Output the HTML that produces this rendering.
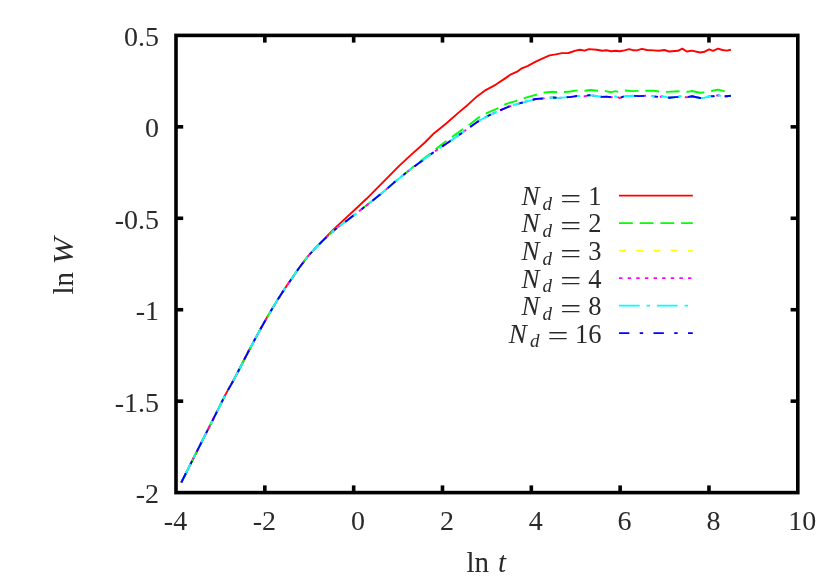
<!DOCTYPE html>
<html>
<head>
<meta charset="utf-8">
<title>ln W vs ln t</title>
<style>
html,body{margin:0;padding:0;background:#ffffff;}
body{width:830px;height:583px;overflow:hidden;font-family:"Liberation Serif",serif;}
svg{display:block;opacity:0.999;will-change:transform;}
text{font-family:"Liberation Serif",serif;fill:#2a2a2a;}
.it{font-style:italic;}
</style>
</head>
<body>
<svg width="830" height="583" viewBox="0 0 830 583">
<rect x="0" y="0" width="830" height="583" fill="#ffffff"/>

<g fill="none" stroke-linejoin="round" stroke-linecap="butt">
<path d="M181.3,482.5 L193.7,457.8 L209.1,427.3 L225.6,394.4 L233.8,379.8 L238.5,370.8 L248.8,350.7 L260.1,329.7 L267.3,316.9 L277.6,299.8 L286.9,285.4 L290.8,280.0 L298.5,268.8 L307.8,256.4 L318.6,244.6 L325.7,237.5 L334.1,229.0 L344.9,218.9 L357.2,207.5 L366.5,198.8 L375.4,189.8 L387.8,177.4 L398.6,166.4 L411.0,154.9 L424.9,142.5 L434.1,133.2 L446.5,123.2 L458.8,112.4 L467.7,104.9 L477.0,96.4 L484.7,90.7 L495.5,84.8 L504.8,78.6 L511.0,74.3 L517.1,71.7 L521.8,68.3 L528.0,65.8 L535.7,61.6 L543.4,58.2 L549.6,55.4 L555.8,54.4 L561.9,53.1 L568.1,53.1 L570.0,52.5 L575.6,50.6 L580.0,49.8 L584.5,50.6 L589.0,49.1 L596.8,49.7 L602.3,50.8 L606.2,50.3 L611.3,51.2 L615.7,50.8 L619.6,51.2 L624.6,50.4 L629.1,49.1 L633.6,50.3 L636.9,50.4 L641.9,48.9 L647.0,50.0 L653.6,50.4 L658.9,50.8 L664.5,50.0 L669.0,51.5 L677.9,50.8 L682.3,48.6 L686.8,51.5 L691.8,50.6 L700.2,52.5 L704.6,51.7 L709.1,49.3 L713.0,50.8 L718.0,48.6 L722.5,50.0 L726.9,50.6 L730.9,49.7" stroke="#ff0000" stroke-width="1.9"/>
<path d="M181.3,482.5 L193.7,457.8 L209.1,427.3 L225.6,394.4 L233.8,379.8 L238.5,370.8 L248.8,350.7 L260.1,329.7 L267.3,316.9 L277.6,299.8 L286.9,285.4 L290.8,280.0 L298.5,268.8 L307.8,256.4 L318.6,244.8 L327.9,235.9 L337.1,227.8 L346.4,220.9 L355.7,213.9 L363.4,207.8 L372.7,200.5 L380.4,194.3 L385.5,190.0 L387.7,188.1" stroke="#00ff00" stroke-width="1.9" stroke-dasharray="13.80,6.90"/>
<path d="M387.7,188.1 L394.0,182.6 L406.3,172.4 L412.5,167.4 L431.0,153.0 L444.9,142.0 L461.9,129.8 L470.0,124.2 L478.5,117.6 L487.8,112.6 L498.6,108.0 L506.3,103.8 L515.6,101.1 L524.9,97.9 L535.7,94.8 L544.9,92.5 L552.7,91.7 L558.8,92.5 L568.1,91.7 L570.0,91.5 L577.8,90.4 L585.0,90.7 L590.0,90.0 L597.9,90.7 L605.7,91.1 L611.3,92.2 L615.7,91.1 L618.5,91.9 L625.2,90.5 L632.4,91.1 L638.6,90.9 L645.8,90.7 L653.6,90.7 L658.9,91.5 L666.7,91.9 L679.0,91.3 L686.8,91.9 L690.8,91.2" stroke="#00ff00" stroke-width="1.9" stroke-dasharray="13.70,6.85"/>
<path d="M690.8,91.2 L691.8,91.0 L700.2,92.7 L704.6,92.4 L711.3,91.0 L718.0,89.6 L724.2,91.1 L730.9,90.6" stroke="#00ff00" stroke-width="1.9" stroke-dasharray="13.80,6.90"/>
<path d="M181.3,482.5 L193.7,457.8 L209.1,427.3 L225.6,394.4 L233.8,379.8 L238.5,370.8 L248.8,350.7 L260.1,329.7 L267.3,316.9 L277.6,299.8 L286.9,285.4 L290.8,280.0 L298.5,268.8 L307.8,256.4 L318.6,244.8 L327.9,235.9 L337.1,227.8 L346.4,220.9 L355.7,213.9 L363.4,207.8 L372.7,200.5 L380.4,194.3 L385.5,190.0 L387.7,188.1" stroke="#ffff00" stroke-width="1.9" stroke-dasharray="6.90,10.35"/>
<path d="M387.7,188.1 L394.0,182.6 L406.3,172.6 L418.7,163.3 L431.0,154.1 L443.4,145.6 L452.7,139.4 L461.9,132.9 L470.8,126.5 L478.5,121.1 L487.8,116.0 L498.6,111.0 L509.4,106.4 L518.7,103.6 L528.0,101.0 L535.7,99.0 L543.4,98.4 L552.7,97.5 L558.8,97.9 L568.1,97.1 L570.0,97.1 L576.7,96.0 L584.5,96.3 L589.0,95.2 L596.8,96.0 L602.3,96.9 L606.8,96.7 L611.3,97.2 L615.7,96.3 L619.6,98.0 L624.6,96.1 L632.4,95.8 L639.1,96.1 L645.8,95.8 L651.7,96.1 L658.4,96.9 L663.4,96.3 L669.0,97.7 L677.9,96.9 L681.8,95.8 L686.2,97.4 L690.8,96.5" stroke="#ffff00" stroke-width="1.9" stroke-dasharray="6.85,10.28"/>
<path d="M690.8,96.5 L691.8,96.3 L700.2,98.0 L704.6,97.7 L709.1,96.3 L713.0,96.3 L718.0,95.2 L722.5,96.1 L726.9,96.3 L730.9,95.8" stroke="#ffff00" stroke-width="1.9" stroke-dasharray="6.90,10.35"/>
<path d="M181.3,482.5 L193.7,457.8 L209.1,427.3 L225.6,394.4 L233.8,379.8 L238.5,370.8 L248.8,350.7 L260.1,329.7 L267.3,316.9 L277.6,299.8 L286.9,285.4 L290.8,280.0 L298.5,268.8 L307.8,256.4 L318.6,244.8 L327.9,235.9 L337.1,227.8 L346.4,220.9 L355.7,213.9 L363.4,207.8 L372.7,200.5 L380.4,194.3 L385.5,190.0 L387.7,188.1" stroke="#ff00ff" stroke-width="1.9" stroke-dasharray="3.45,5.18"/>
<path d="M387.7,188.1 L394.0,182.6 L406.3,172.6 L418.7,163.3 L431.0,154.1 L443.4,145.6 L452.7,139.4 L461.9,132.9 L470.8,126.5 L478.5,121.1 L487.8,116.0 L498.6,111.0 L509.4,106.4 L518.7,103.6 L528.0,101.0 L535.7,99.0 L543.4,98.4 L552.7,97.5 L558.8,97.9 L568.1,97.1 L570.0,97.1 L576.7,96.0 L584.5,96.3 L589.0,95.2 L596.8,96.0 L602.3,96.9 L606.8,96.7 L611.3,97.2 L615.7,96.3 L619.6,98.0 L624.6,96.1 L632.4,95.8 L639.1,96.1 L645.8,95.8 L651.7,96.1 L658.4,96.9 L663.4,96.3 L669.0,97.7 L677.9,96.9 L681.8,95.8 L686.2,97.4 L690.8,96.5" stroke="#ff00ff" stroke-width="1.9" stroke-dasharray="3.43,5.14"/>
<path d="M690.8,96.5 L691.8,96.3 L700.2,98.0 L704.6,97.7 L709.1,96.3 L713.0,96.3 L718.0,95.2 L722.5,96.1 L726.9,96.3 L730.9,95.8" stroke="#ff00ff" stroke-width="1.9" stroke-dasharray="3.45,5.18"/>
<path d="M181.3,482.5 L193.7,457.8 L209.1,427.3 L225.6,394.4 L233.8,379.8 L238.5,370.8 L248.8,350.7 L260.1,329.7 L267.3,316.9 L277.6,299.8 L286.9,285.4 L290.8,280.0 L298.5,268.8 L307.8,256.4 L318.6,244.8 L327.9,235.9 L337.1,227.8 L346.4,220.9 L355.7,213.9 L363.4,207.8 L372.7,200.5 L380.4,194.3 L385.5,190.0 L387.7,188.1" stroke="#00ffff" stroke-width="1.9" stroke-dasharray="20.70,6.90,3.45,6.90"/>
<path d="M387.7,188.1 L394.0,182.6 L406.3,172.6 L418.7,163.3 L431.0,154.1 L443.4,145.6 L452.7,139.4 L461.9,132.9 L470.8,126.5 L478.5,121.1 L487.8,116.0 L498.6,111.0 L509.4,106.4 L518.7,103.6 L528.0,101.0 L535.7,99.0 L543.4,98.4 L552.7,97.5 L558.8,97.9 L568.1,97.1 L570.0,97.1 L576.7,96.0 L584.5,96.3 L589.0,95.2 L596.8,96.0 L602.3,96.9 L606.8,96.7 L611.3,97.2 L615.7,96.3 L619.6,98.0 L624.6,96.1 L632.4,95.8 L639.1,96.1 L645.8,95.8 L651.7,96.1 L658.4,96.9 L663.4,96.3 L669.0,97.7 L677.9,96.9 L681.8,95.8 L686.2,97.4 L690.8,96.5" stroke="#00ffff" stroke-width="1.9" stroke-dasharray="20.56,6.85,3.43,6.85"/>
<path d="M690.8,96.5 L691.8,96.3 L700.2,98.0 L704.6,97.7 L709.1,96.3 L713.0,96.3 L718.0,95.2 L722.5,96.1 L726.9,96.3 L730.9,95.8" stroke="#00ffff" stroke-width="1.9" stroke-dasharray="20.70,6.90,3.45,6.90"/>
<path d="M181.3,482.5 L193.7,457.8 L209.1,427.3 L225.6,394.4 L233.8,379.8 L238.5,370.8 L248.8,350.7 L260.1,329.7 L267.3,316.9 L277.6,299.8 L286.9,285.4 L290.8,280.0 L298.5,268.8 L307.8,256.4 L318.6,244.8 L327.9,235.9 L337.1,227.8 L346.4,220.9 L355.7,213.9 L363.4,207.8 L372.7,200.5 L380.4,194.3 L385.5,190.0 L387.7,188.1" stroke="#0000ff" stroke-width="1.9" stroke-dasharray="10.35,10.35,3.45,10.35"/>
<path d="M387.7,188.1 L394.0,182.6 L406.3,172.6 L418.7,163.3 L431.0,154.1 L443.4,145.6 L452.7,139.4 L461.9,132.9 L470.8,126.5 L478.5,121.1 L487.8,116.0 L498.6,111.0 L509.4,106.4 L518.7,103.6 L528.0,101.0 L535.7,99.0 L543.4,98.4 L552.7,97.5 L558.8,97.9 L568.1,97.1 L570.0,97.1 L576.7,96.0 L584.5,96.3 L589.0,95.2 L596.8,96.0 L602.3,96.9 L606.8,96.7 L611.3,97.2 L615.7,96.3 L619.6,98.0 L624.6,96.1 L632.4,95.8 L639.1,96.1 L645.8,95.8 L651.7,96.1 L658.4,96.9 L663.4,96.3 L669.0,97.7 L677.9,96.9 L681.8,95.8 L686.2,97.4 L690.8,96.5" stroke="#0000ff" stroke-width="1.9" stroke-dasharray="10.28,10.28,3.43,10.28"/>
<path d="M690.8,96.5 L691.8,96.3 L700.2,98.0 L704.6,97.7 L709.1,96.3 L713.0,96.3 L718.0,95.2 L722.5,96.1 L726.9,96.3 L730.9,95.8" stroke="#0000ff" stroke-width="1.9" stroke-dasharray="10.35,10.35,3.45,10.35"/>
</g>
<g stroke="#000000" stroke-width="3.6" fill="none">
<line x1="264.83" y1="492.60" x2="264.83" y2="485.40"/>
<line x1="264.83" y1="35.40" x2="264.83" y2="42.60"/>
<line x1="353.66" y1="492.60" x2="353.66" y2="485.40"/>
<line x1="353.66" y1="35.40" x2="353.66" y2="42.60"/>
<line x1="442.49" y1="492.60" x2="442.49" y2="485.40"/>
<line x1="442.49" y1="35.40" x2="442.49" y2="42.60"/>
<line x1="531.31" y1="492.60" x2="531.31" y2="485.40"/>
<line x1="531.31" y1="35.40" x2="531.31" y2="42.60"/>
<line x1="620.14" y1="492.60" x2="620.14" y2="485.40"/>
<line x1="620.14" y1="35.40" x2="620.14" y2="42.60"/>
<line x1="708.97" y1="492.60" x2="708.97" y2="485.40"/>
<line x1="708.97" y1="35.40" x2="708.97" y2="42.60"/>
<line x1="176.00" y1="126.84" x2="183.20" y2="126.84"/>
<line x1="797.80" y1="126.84" x2="790.60" y2="126.84"/>
<line x1="176.00" y1="218.28" x2="183.20" y2="218.28"/>
<line x1="797.80" y1="218.28" x2="790.60" y2="218.28"/>
<line x1="176.00" y1="309.72" x2="183.20" y2="309.72"/>
<line x1="797.80" y1="309.72" x2="790.60" y2="309.72"/>
<line x1="176.00" y1="401.16" x2="183.20" y2="401.16"/>
<line x1="797.80" y1="401.16" x2="790.60" y2="401.16"/>
<rect x="176.0" y="35.4" width="621.80" height="457.20" stroke-linejoin="miter"/>
</g>
<g font-size="28">
<text x="175.5" y="530.2" text-anchor="middle">-4</text>
<text x="264.3" y="530.2" text-anchor="middle">-2</text>
<text x="358.1" y="530.2" text-anchor="middle">0</text>
<text x="446.9" y="530.2" text-anchor="middle">2</text>
<text x="535.7" y="530.2" text-anchor="middle">4</text>
<text x="624.5" y="530.2" text-anchor="middle">6</text>
<text x="713.4" y="530.2" text-anchor="middle">8</text>
<text x="802.2" y="530.2" text-anchor="middle">10</text>
<text x="159.1" y="46.0" text-anchor="end">0.5</text>
<text x="159.1" y="137.4" text-anchor="end">0</text>
<text x="159.1" y="228.9" text-anchor="end">-0.5</text>
<text x="159.1" y="320.3" text-anchor="end">-1</text>
<text x="159.1" y="411.8" text-anchor="end">-1.5</text>
<text x="159.1" y="503.2" text-anchor="end">-2</text>
</g>
<text x="466.4" y="571.8" font-size="29">ln</text>
<text x="498.0" y="571.8" font-size="29" class="it">t</text>
<g transform="translate(72.9,294.6) rotate(-90)"><text x="0" y="0" font-size="29">ln</text><text x="30.2" y="0" font-size="29" class="it" textLength="27" lengthAdjust="spacingAndGlyphs">W</text></g>
<g fill="none" stroke-linecap="butt">
<path d="M619.0,195.6 L692.8,195.6" stroke="#ff0000" stroke-width="1.7"/>
<path d="M619.0,223.1 L692.8,223.1" stroke="#00ff00" stroke-width="1.7" stroke-dasharray="13.80,6.90"/>
<path d="M619.0,250.6 L692.8,250.6" stroke="#ffff00" stroke-width="1.7" stroke-dasharray="6.90,10.35"/>
<path d="M619.0,278.2 L692.8,278.2" stroke="#ff00ff" stroke-width="1.7" stroke-dasharray="3.45,5.18"/>
<path d="M619.0,305.7 L692.8,305.7" stroke="#00ffff" stroke-width="1.7" stroke-dasharray="20.70,6.90,3.45,6.90"/>
<path d="M619.0,333.2 L692.8,333.2" stroke="#0000ff" stroke-width="1.7" stroke-dasharray="10.35,10.35,3.45,10.35"/>
</g>
<text x="521.4" y="204.9" font-size="27" class="it">N</text>
<text x="542.6" y="209.5" font-size="19" class="it">d</text>
<text x="560.2" y="207.7" font-size="28" textLength="21" lengthAdjust="spacingAndGlyphs">=</text>
<text x="601.6" y="204.9" font-size="26.5" text-anchor="end">1</text>
<text x="521.4" y="232.4" font-size="27" class="it">N</text>
<text x="542.6" y="237.0" font-size="19" class="it">d</text>
<text x="560.2" y="235.2" font-size="28" textLength="21" lengthAdjust="spacingAndGlyphs">=</text>
<text x="601.6" y="232.4" font-size="26.5" text-anchor="end">2</text>
<text x="521.4" y="259.9" font-size="27" class="it">N</text>
<text x="542.6" y="264.5" font-size="19" class="it">d</text>
<text x="560.2" y="262.7" font-size="28" textLength="21" lengthAdjust="spacingAndGlyphs">=</text>
<text x="601.6" y="259.9" font-size="26.5" text-anchor="end">3</text>
<text x="521.4" y="287.5" font-size="27" class="it">N</text>
<text x="542.6" y="292.1" font-size="19" class="it">d</text>
<text x="560.2" y="290.3" font-size="28" textLength="21" lengthAdjust="spacingAndGlyphs">=</text>
<text x="601.6" y="287.5" font-size="26.5" text-anchor="end">4</text>
<text x="521.4" y="315.0" font-size="27" class="it">N</text>
<text x="542.6" y="319.6" font-size="19" class="it">d</text>
<text x="560.2" y="317.8" font-size="28" textLength="21" lengthAdjust="spacingAndGlyphs">=</text>
<text x="601.6" y="315.0" font-size="26.5" text-anchor="end">8</text>
<text x="508.7" y="342.5" font-size="27" class="it">N</text>
<text x="529.9" y="347.1" font-size="19" class="it">d</text>
<text x="547.5" y="345.3" font-size="28" textLength="21" lengthAdjust="spacingAndGlyphs">=</text>
<text x="601.6" y="342.5" font-size="26.5" text-anchor="end">16</text>
</svg>
</body>
</html>
